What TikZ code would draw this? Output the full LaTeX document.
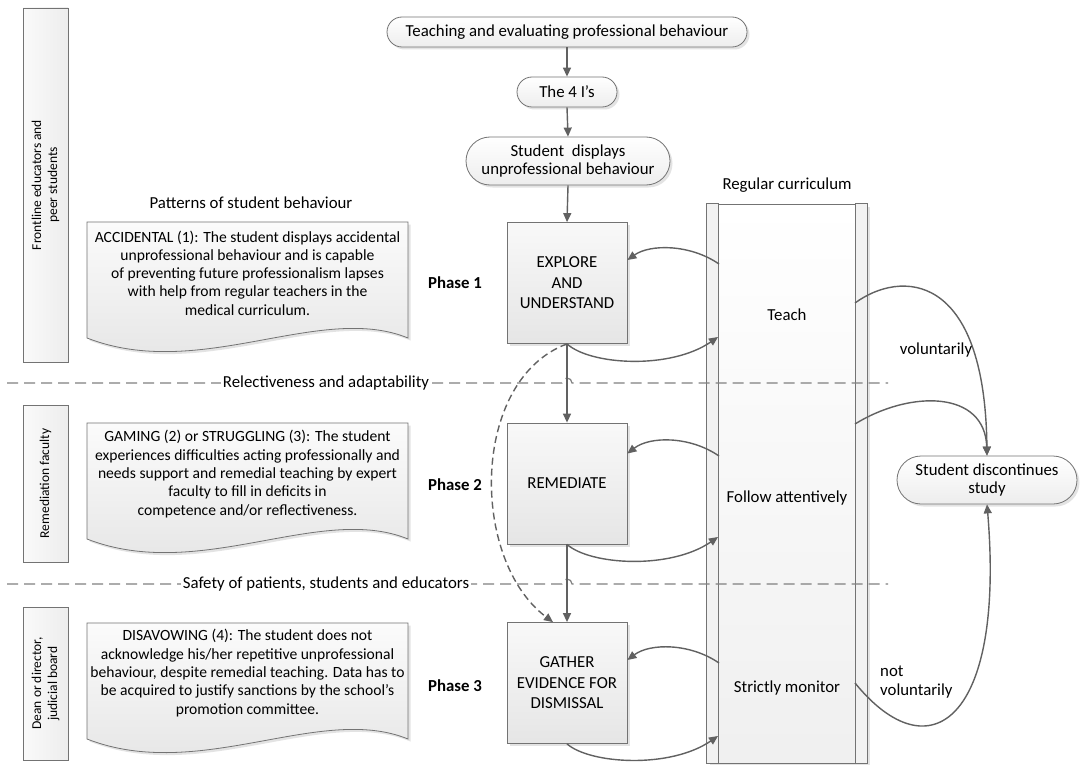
\documentclass[tikz,border=0pt]{standalone}
\usepackage{fontspec}
\setmainfont{Carlito}
\usetikzlibrary{arrows.meta,shadows,shapes.misc,calc}
\newcommand\myfs[2]{\fontsize{#1pt}{#2pt}\selectfont}
\begin{document}
\begin{tikzpicture}[x=1pt,y=-1pt,
 conn/.style={draw=black!62,line width=1.4pt},
 arr/.style={conn,-{Triangle[length=9pt,width=8pt]}},
 dasharr/.style={arr,dash pattern=on 7pt off 4pt},
 sep/.style={draw=black!50,line width=1.2pt,dash pattern=on 11pt off 6pt},
 shad/.style={drop shadow={opacity=0.22,shadow xshift=2.5pt,shadow yshift=-2.5pt}},
 term/.style={rounded rectangle,draw=black!55,line width=0.8pt,top color=white,bottom color=gray!14,shad,align=center,inner sep=0pt,font=\myfs{16.8}{18}},
 phase/.style={rectangle,draw=black!55,line width=0.8pt,top color=gray!5,bottom color=gray!20,shad,align=center,minimum width=120pt,minimum height=121pt,inner sep=0pt,font=\myfs{16.8}{20.5}},
 doc/.style={draw=black!55,line width=0.8pt,top color=gray!3,bottom color=gray!22,shad},
 doctext/.style={align=center,font=\myfs{15.6}{18.3},inner sep=0pt},
 lane/.style={rectangle,draw=black!55,line width=0.8pt,left color=gray!4,right color=gray!14,rotate=90,align=center,inner sep=0pt,font=\myfs{13.5}{16}},
 lbl/.style={font=\myfs{16.8}{19},inner sep=0pt,align=center},
 seplbl/.style={lbl,fill=white,inner sep=1.5pt},
 strip/.style={fill=gray!10,draw=black!55,line width=0.8pt},
]
\useasboundingbox[fill=white] (0,0) rectangle (1081,765);

% swimlane labels
\node[lane,minimum width=354pt,minimum height=45pt] (lane1) at (45.5,185) {Frontline educators and\\peer students};
\node[lane,minimum width=157pt,minimum height=45pt] (lane2) at (45.5,483.5) {Remediation faculty};
\node[lane,minimum width=153pt,minimum height=45pt] (lane3) at (45.5,683.5) {Dean or director,\\judicial board};

% regular curriculum column
\node[lbl] (rc) at (787,185) {Regular curriculum};
\node[rectangle,draw=black!55,line width=0.8pt,top color=white,bottom color=gray!12,shad,minimum width=160pt,minimum height=559pt,inner sep=0pt] (col) at (787,483.5) {};
\path[strip] (col.north west) rectangle ([xshift=12pt]col.south west);
\path[strip] ([xshift=-12pt]col.north east) rectangle (col.south east);
\node[lbl] (teach) at (787,315) {Teach};
\node[lbl] (follow) at (787,498) {Follow attentively};
\node[lbl] (monitor) at (787,688) {Strictly monitor};

% separators
\draw[sep] (7,383) -- (562,383) arc[start angle=180,end angle=360,radius=5] -- (888,383);
\draw[sep] (7,584) -- (562,584) arc[start angle=180,end angle=360,radius=5] -- (888,584);
\node[seplbl] (s1) at (326,383) {Relectiveness and adaptability};
\node[seplbl] (s2) at (326,584) {Safety of patients, students and educators};

% documents
\node[lbl] (pat) at (251,203) {Patterns of student behaviour};
\path[doc] (87,222) -- (408,222) -- (408,338) .. controls (320,302) and (200,382) .. (87,338) -- cycle;
\path[doc] (87,423) -- (408,423) -- (408,539) .. controls (320,503) and (200,583) .. (87,539) -- cycle;
\path[doc] (87,623) -- (408,623) -- (408,739) .. controls (320,703) and (200,783) .. (87,739) -- cycle;
\node[doctext] (d1) at (247.5,273) {ACCIDENTAL (1): The student displays accidental\\unprofessional behaviour and is capable\\of preventing future professionalism lapses\\with help from regular teachers in the\\medical curriculum.};
\node[doctext] (d2) at (247.5,474) {GAMING (2) or STRUGGLING (3): The student\\experiences difficulties acting professionally and\\needs support and remedial teaching by expert\\faculty to fill in deficits in\\competence and/or reflectiveness.};
\node[doctext] (d3) at (247.5,673) {DISAVOWING (4): The student does not\\acknowledge his/her repetitive unprofessional\\behaviour, despite remedial teaching. Data has to\\be acquired to justify sanctions by the school’s\\promotion committee.};

% phase labels
\node[lbl,font=\myfs{16.8}{19}\bfseries] (p1) at (455,283) {Phase 1};
\node[lbl,font=\myfs{16.8}{19}\bfseries] (p2) at (455,485) {Phase 2};
\node[lbl,font=\myfs{16.8}{19}\bfseries] (p3) at (455,686) {Phase 3};

% terminators
\node[term,minimum width=360pt,minimum height=30pt] (top) at (567,32) {Teaching and evaluating professional behaviour};
\node[term,minimum width=100pt,minimum height=30pt] (fouri) at (567,92) {The 4 I’s};
\node[term,minimum width=204pt,minimum height=48pt,font=\myfs{16.8}{17.7}] (disp) at (568,161) {Student\ \ displays\\unprofessional behaviour};
\node[term,minimum width=180pt,minimum height=48pt,font=\myfs{16.8}{17.7}] (disc) at (987,480) {Student discontinues\\study};

% phase boxes
\node[phase] (explore) at (567,283) {EXPLORE\\AND\\UNDERSTAND};
\node[phase] (remediate) at (567,483.5) {REMEDIATE};
\node[phase] (gather) at (567,683) {GATHER\\EVIDENCE FOR\\DISMISSAL};

% main flow
\draw[arr] (top.south) -- (fouri.north);
\draw[arr] (fouri.south) -- (disp.north);
\draw[arr] (disp.south) -- (explore.north);
\draw[arr] (explore.south) -- (remediate.north);
\draw[arr] (remediate.south) -- (gather.north);
\draw[dasharr] (explore.south) .. controls (470,380) and (470,560) .. ([xshift=-14pt]gather.north);

% column <-> phase boxes
\coordinate (ci1) at (719,264); \coordinate (co1) at (718,337);
\coordinate (ci2) at (719,456); \coordinate (co2) at (718,537);
\coordinate (ci3) at (719,663); \coordinate (co3) at (718,736);
\draw[arr] (ci1) .. controls (690,244) and (650,244) .. ([yshift=23pt]explore.east);
\draw[arr] (explore.south) .. controls (590,365) and (670,370) .. (co1);
\draw[arr] (ci2) .. controls (690,436) and (650,436) .. ([yshift=30pt]remediate.east);
\draw[arr] (remediate.south) .. controls (590,565) and (670,570) .. (co2);
\draw[arr] (ci3) .. controls (690,643) and (650,643) .. ([yshift=23pt]gather.east);
\draw[arr] (gather.south) .. controls (590,764) and (670,769) .. (co3);

% column -> discontinue
\coordinate (cr1) at (855,303); \coordinate (cr2) at (855,424); \coordinate (cr3) at (855,683);
\draw[arr] (cr1) .. controls (900,270) and (985,270) .. (disc.north);
\draw[arr] (cr2) .. controls (910,390) and (985,390) .. (disc.north);
\draw[arr] (cr3) .. controls (930,775) and (1005,720) .. (disc.south);
\node[lbl] (vol) at (936,350) {voluntarily};
\node[lbl,align=left,anchor=west] (nvol) at (880,682) {not\\voluntarily};
\end{tikzpicture}
\end{document}
